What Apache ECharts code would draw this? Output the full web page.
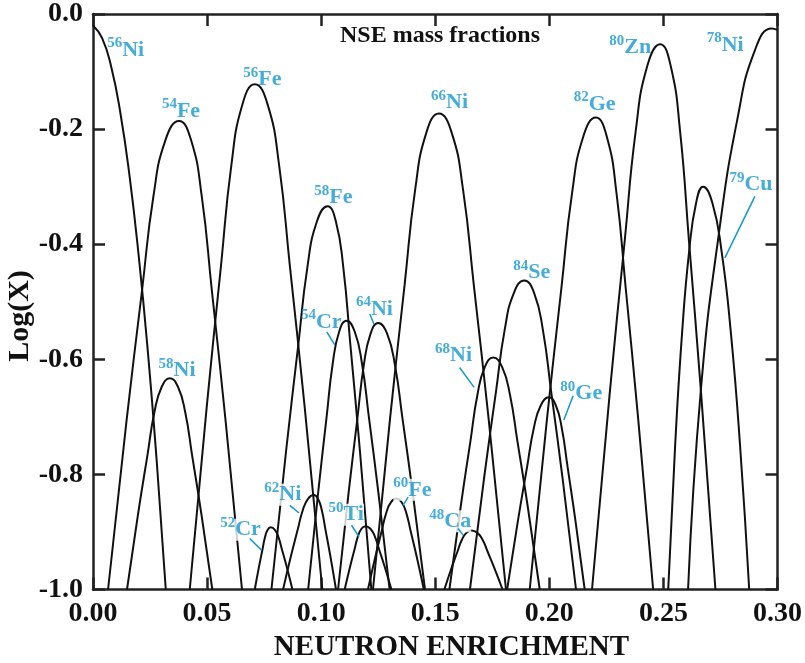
<!DOCTYPE html>
<html>
<head>
<meta charset="utf-8">
<script src="https://cdn.jsdelivr.net/npm/echarts@6/dist/echarts.min.js"></script>
<style>
  html, body { margin: 0; padding: 0; background: #fff; }
  #chart { width: 805px; height: 663px; }
</style>
</head>
<body>
<div id="chart"></div>
<script>
// NSE mass fractions: x = neutron enrichment, y = log10 of the mass fraction
const ni56 = [[0, -0.02], [0.004, -0.042], [0.008, -0.092], [0.012, -0.172], [0.016, -0.281], [0.020, -0.419], [0.024, -0.585], [0.028, -0.781], [0.0319, -1.0]];
const fe54 = [[0.0066, -1], [0.01469, -0.707], [0.02153, -0.479], [0.0265, -0.3162], [0.03179, -0.2186], [0.0377, -0.186], [0.04294, -0.2186], [0.04764, -0.3162], [0.05205, -0.479], [0.05812, -0.707], [0.0653, -1]];
const ni58 = [[0.0149, -1], [0.01979, -0.8679], [0.02392, -0.7651], [0.02693, -0.6917], [0.03013, -0.6477], [0.0337, -0.633], [0.03723, -0.6477], [0.0404, -0.6917], [0.04337, -0.7651], [0.04746, -0.8679], [0.0523, -1]];
const fe56 = [[0.0424, -1], [0.04981, -0.6839], [0.05608, -0.4381], [0.06064, -0.2625], [0.06548, -0.1571], [0.0709, -0.122], [0.07652, -0.1571], [0.08156, -0.2625], [0.08629, -0.4381], [0.0928, -0.6839], [0.1005, -1]];
const cr52 = [[0.0709, -1], [0.07272, -0.9611], [0.07426, -0.9309], [0.07538, -0.9093], [0.07657, -0.8963], [0.0779, -0.892], [0.0797, -0.8963], [0.08132, -0.9093], [0.08284, -0.9309], [0.08493, -0.9611], [0.0874, -1]];
const fe58 = [[0.0782, -1], [0.0846, -0.7602], [0.09001, -0.5738], [0.09394, -0.4406], [0.09813, -0.3606], [0.1028, -0.334], [0.10645, -0.3606], [0.10971, -0.4406], [0.11278, -0.5738], [0.11701, -0.7602], [0.122, -1]];
const ni62 = [[0.0833, -1], [0.08681, -0.941], [0.08978, -0.895], [0.09194, -0.8622], [0.09423, -0.8426], [0.0968, -0.836], [0.09864, -0.8426], [0.10029, -0.8622], [0.10184, -0.895], [0.10398, -0.941], [0.1065, -1]];
const cr54 = [[0.0943, -1], [0.09867, -0.8319], [0.10236, -0.7011], [0.10505, -0.6077], [0.10791, -0.5517], [0.1111, -0.533], [0.11469, -0.5517], [0.1179, -0.6077], [0.12093, -0.7011], [0.12509, -0.8319], [0.130, -1]];
const ni64 = [[0.1074, -1], [0.11198, -0.8333], [0.11585, -0.7037], [0.11866, -0.6111], [0.12166, -0.5555], [0.125, -0.537], [0.1289, -0.5555], [0.13238, -0.6111], [0.13566, -0.7037], [0.14017, -0.8333], [0.1455, -1]];
const ti50 = [[0.1103, -1], [0.11267, -0.9604], [0.11467, -0.9296], [0.11612, -0.9076], [0.11767, -0.8944], [0.1194, -0.89], [0.12157, -0.8944], [0.1235, -0.9076], [0.12533, -0.9296], [0.12784, -0.9604], [0.1308, -1]];
const fe60 = [[0.1205, -1], [0.12375, -0.9431], [0.1265, -0.8989], [0.1285, -0.8673], [0.13062, -0.8483], [0.133, -0.842], [0.13528, -0.8483], [0.13732, -0.8673], [0.13924, -0.8989], [0.14188, -0.9431], [0.145, -1]];
const ni66 = [[0.1227, -1], [0.13021, -0.7023], [0.13657, -0.4707], [0.1412, -0.3053], [0.14611, -0.2061], [0.1516, -0.173], [0.15719, -0.2061], [0.16218, -0.3053], [0.16689, -0.4707], [0.17336, -0.7023], [0.181, -1]];
const ca48 = [[0.154, -1], [0.15709, -0.9631], [0.15971, -0.9344], [0.16162, -0.9139], [0.16364, -0.9016], [0.1659, -0.8975], [0.16848, -0.9016], [0.1708, -0.9139], [0.17297, -0.9344], [0.17596, -0.9631], [0.1795, -1]];
const ni68 = [[0.1562, -1], [0.16119, -0.8549], [0.16542, -0.7421], [0.16849, -0.6615], [0.17175, -0.6131], [0.1754, -0.597], [0.17928, -0.6131], [0.18274, -0.6615], [0.18601, -0.7421], [0.1905, -0.8549], [0.1958, -1]];
const se84 = [[0.1652, -1], [0.17139, -0.8067], [0.17662, -0.6563], [0.18043, -0.5489], [0.18448, -0.4845], [0.189, -0.463], [0.19331, -0.4845], [0.19717, -0.5489], [0.2008, -0.6563], [0.2058, -0.8067], [0.2117, -1]];
const ge80 = [[0.1815, -1], [0.18626, -0.8798], [0.19028, -0.7862], [0.19321, -0.7194], [0.19632, -0.6794], [0.1998, -0.666], [0.20278, -0.6794], [0.20545, -0.7194], [0.20796, -0.7862], [0.21142, -0.8798], [0.2155, -1]];
const ge82 = [[0.1914, -1], [0.19894, -0.7048], [0.20532, -0.4752], [0.20996, -0.3112], [0.21489, -0.2128], [0.2204, -0.18], [0.22517, -0.2128], [0.22944, -0.3112], [0.23345, -0.4752], [0.23897, -0.7048], [0.2455, -1]];
const zn80 = [[0.2187, -1], [0.22647, -0.6589], [0.23305, -0.3936], [0.23784, -0.2041], [0.24292, -0.0904], [0.2486, -0.0525], [0.2532, -0.0904], [0.25731, -0.2041], [0.26118, -0.3936], [0.26651, -0.6589], [0.2728, -1]];
const cu79 = [[0.2521, -1], [0.25516, -0.748], [0.25822, -0.552], [0.26128, -0.412], [0.26434, -0.328], [0.2674, -0.30], [0.27144, -0.328], [0.27548, -0.412], [0.27952, -0.552], [0.28356, -0.748], [0.2876, -1]];
const ni78 = [[0.2608, -1], [0.2665, -0.649], [0.2745, -0.376], [0.2825, -0.181], [0.2900, -0.064], [0.2975, -0.025], [0.30, -0.0275]];

const curves = [
  ['56Ni', ni56], ['54Fe', fe54], ['58Ni', ni58], ['56Fe', fe56], ['52Cr', cr52],
  ['58Fe', fe58], ['62Ni', ni62], ['54Cr', cr54], ['64Ni', ni64], ['50Ti', ti50],
  ['60Fe', fe60], ['66Ni', ni66], ['48Ca', ca48], ['68Ni', ni68], ['84Se', se84],
  ['80Ge', ge80], ['82Ge', ge82], ['80Zn', zn80], ['79Cu', cu79], ['78Ni', ni78]
];

// axis ticks
const xTicks = [0, 0.05, 0.10, 0.15, 0.20, 0.25, 0.30];
const yTicks = [-1.0, -0.8, -0.6, -0.4, -0.2, 0.0];

// isotope tags: anchor is the lower-left corner of the tag, knock = white backing
const tags = [
  { mass: '56', sym: 'Ni', at: [0.00644, -0.0823] },
  { mass: '54', sym: 'Fe', at: [0.03043, -0.1887] },
  { mass: '56', sym: 'Fe', at: [0.06607, -0.1342] },
  { mass: '58', sym: 'Fe', at: [0.0972, -0.3385] },
  { mass: '66', sym: 'Ni', at: [0.14836, -0.1740] },
  { mass: '84', sym: 'Se', at: [0.18444, -0.4687] },
  { mass: '82', sym: 'Ge', at: [0.21087, -0.1761] },
  { mass: '80', sym: 'Zn', at: [0.22653, -0.0779] },
  { mass: '78', sym: 'Ni', at: [0.26918, -0.0736] },
  { mass: '79', sym: 'Cu', at: [0.27913, -0.316] },
  { mass: '58', sym: 'Ni', at: [0.02893, -0.639] },
  { mass: '54', sym: 'Cr', at: [0.09136, -0.555] },
  { mass: '64', sym: 'Ni', at: [0.11548, -0.5325] },
  { mass: '68', sym: 'Ni', at: [0.15011, -0.613] },
  { mass: '80', sym: 'Ge', at: [0.20504, -0.6797] },
  { mass: '62', sym: 'Ni', at: [0.07527, -0.8554], knock: true },
  { mass: '52', sym: 'Cr', at: [0.05598, -0.916], knock: true },
  { mass: '50', sym: 'Ti', at: [0.10346, -0.890], knock: true },
  { mass: '60', sym: 'Fe', at: [0.13183, -0.8468], knock: true },
  { mass: '48', sym: 'Ca', at: [0.14761, -0.9016], knock: true }
];

// short pointer strokes from a tag to its curve
const leaders = [
  [[0.10246, -0.5524], [0.10596, -0.5749]],
  [[0.12131, -0.5212], [0.12319, -0.5390]],
  [[0.16067, -0.6142], [0.16703, -0.6488]],
  [[0.21043, -0.6632], [0.20636, -0.7053]],
  [[0.29009, -0.3169], [0.27693, -0.4237]],
  [[0.08624, -0.8537], [0.09031, -0.8670]],
  [[0.06870, -0.9113], [0.07383, -0.9316]],
  [[0.11328, -0.8883], [0.11662, -0.9086]],
  [[0.13810, -0.8393], [0.13590, -0.8537]],
  [[0.16002, -0.8940], [0.16221, -0.9056]]
];

const SERIF = '"Liberation Serif", "DejaVu Serif", serif';
const BLUE = '#1597cf';
const INK = '#111';
const FRAME = '#222';

const chart = echarts.init(document.getElementById('chart'), null, { renderer: 'canvas' });

const axisLine = { show: true, onZero: false, lineStyle: { color: FRAME, width: 2.5 } };
const axisTick = { show: true, inside: true, length: 12, lineStyle: { color: FRAME, width: 2.5 } };
const tickFont = { fontFamily: SERIF, fontWeight: 'bold', fontSize: 28, color: INK };

const series = curves.map(([name, data]) => ({
  name, type: 'line', data, smooth: 0.5, symbol: 'none', showSymbol: false,
  lineStyle: { color: INK, width: 2 }, itemStyle: { color: INK },
  z: 2, silent: true, animation: false
}));

series.push({
  type: 'scatter', z: 5, silent: true, symbolSize: 1, animation: false,
  itemStyle: { color: 'rgba(0,0,0,0)' },
  data: tags.map(t => ({
    value: t.at,
    label: {
      formatter: '{m|' + t.mass + '}{s|' + t.sym + '}',
      backgroundColor: t.knock ? '#fff' : 'transparent'
    }
  })),
  label: {
    show: true, position: [0, 0], align: 'left', verticalAlign: 'bottom',
    rich: {
      m: { fontFamily: SERIF, fontWeight: 'bold', fontSize: 15, lineHeight: 15, color: BLUE, verticalAlign: 'bottom', padding: [0, 0, 10, 0] },
      s: { fontFamily: SERIF, fontWeight: 'bold', fontSize: 22, lineHeight: 22, color: BLUE, verticalAlign: 'bottom' }
    }
  }
});

leaders.forEach(seg => series.push({
  type: 'line', data: seg, symbol: 'none', showSymbol: false, z: 6, silent: true, animation: false,
  lineStyle: { color: BLUE, width: 1.5 }
}));

chart.setOption({
  animation: false,
  backgroundColor: '#fff',
  grid: { left: 93, right: 27, top: 12, bottom: 73.5, containLabel: false },
  xAxis: [
    {
      type: 'value', position: 'bottom', min: xTicks[0], max: xTicks[xTicks.length - 1], interval: 0.05,
      axisLine, axisTick, splitLine: { show: false },
      axisLabel: Object.assign({ margin: 10, showMinLabel: true, showMaxLabel: true, lineHeight: 28,
        formatter: v => v.toFixed(2) }, tickFont)
    },
    {
      type: 'value', position: 'top', min: xTicks[0], max: xTicks[xTicks.length - 1], interval: 0.05,
      axisLine, axisTick, splitLine: { show: false }, axisLabel: { show: false }
    }
  ],
  yAxis: [
    {
      type: 'value', position: 'left', min: yTicks[0], max: yTicks[yTicks.length - 1], interval: 0.2,
      axisLine, axisTick, splitLine: { show: false },
      axisLabel: Object.assign({ margin: 10, showMinLabel: true, showMaxLabel: true,
        formatter: v => (Math.abs(v) < 1e-9 ? 0 : v).toFixed(1) }, tickFont)
    },
    {
      type: 'value', position: 'right', min: yTicks[0], max: yTicks[yTicks.length - 1], interval: 0.2,
      axisLine, axisTick, splitLine: { show: false }, axisLabel: { show: false }
    }
  ],
  graphic: [
    {
      type: 'text', x: 440, y: 35.5, silent: true,
      style: { text: 'NSE mass fractions', font: 'bold 24px ' + SERIF, fill: INK, align: 'center', verticalAlign: 'middle' }
    },
    {
      type: 'text', x: 451.5, y: 648, silent: true,
      style: { text: 'NEUTRON ENRICHMENT', font: 'bold 29px ' + SERIF, fill: INK, align: 'center', verticalAlign: 'middle' }
    },
    {
      type: 'text', x: 20, y: 316, rotation: Math.PI / 2, silent: true,
      style: { text: 'Log(X)', font: 'bold 30px ' + SERIF, fill: INK, align: 'center', verticalAlign: 'middle' }
    }
  ],
  series
});
</script>
</body>
</html>
